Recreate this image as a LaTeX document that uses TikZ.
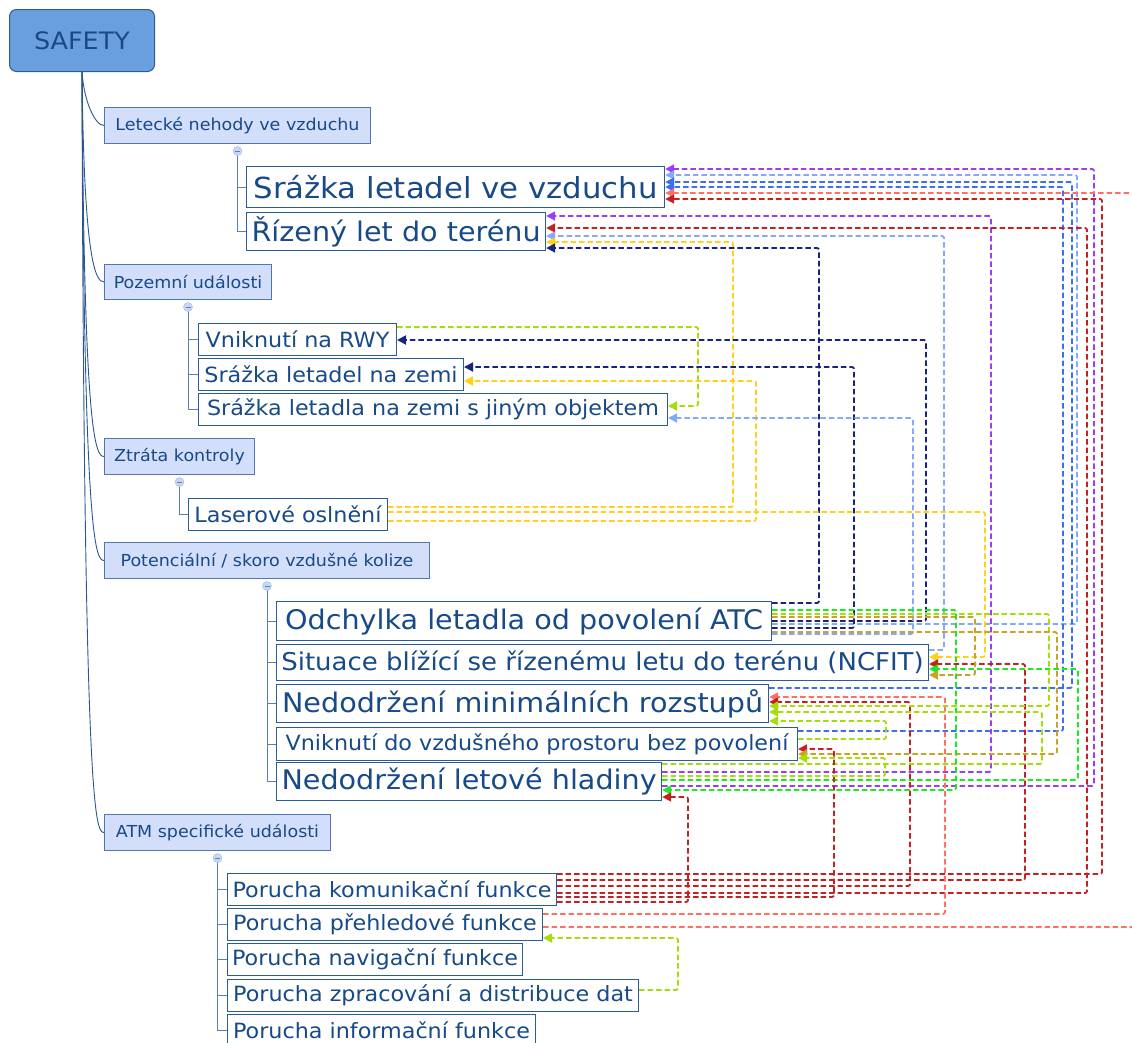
\documentclass[tikz,border=0pt]{standalone}
\usepackage{fontspec}
\setmainfont{DejaVu Sans}[FakeStretch=1.06]
\usetikzlibrary{arrows.meta}

\definecolor{ink}{HTML}{174A87}
\definecolor{rootfill}{HTML}{6A9FDF}
\definecolor{rootedge}{HTML}{2E5C94}
\definecolor{lonefill}{HTML}{D2DEFA}
\definecolor{loneedge}{HTML}{5077B4}
\definecolor{ltwoedge}{HTML}{2B5C9A}
\definecolor{trunkc}{HTML}{2A5791}
\definecolor{branchc}{HTML}{5A7FB5}
\definecolor{knobfill}{HTML}{C8D8F2}
\definecolor{knobedge}{HTML}{9DB6E0}
% connector colours
\definecolor{cpurple}{HTML}{9B3DF5}
\definecolor{clblue}{HTML}{85A8FF}
\definecolor{cblue}{HTML}{3D6EF2}
\definecolor{csalmon}{HTML}{FF6F66}
\definecolor{cdred}{HTML}{C42222}
\definecolor{cnavy}{HTML}{1A237E}
\definecolor{cyellow}{HTML}{FFD21A}
\definecolor{clime}{HTML}{A5DC0A}
\definecolor{cgreen}{HTML}{1EE81E}
\definecolor{colive}{HTML}{C9A22A}

% dashed relation: source node, source y, turning x, target y, target node
\newcommand\wire[6]{\draw[wire,#1] (#2.east |- 0,#3) -| (#4,#5) -- (#6.east |- 0,#5);}

\begin{document}
\begin{tikzpicture}[x=1pt,y=-1pt,
  box/.style={anchor=north west, draw, inner sep=0pt, text=ink, line width=1pt},
  rootbox/.style={box, fill=rootfill, draw=rootedge, rounded corners=7pt,
    font=\fontsize{24}{24}\selectfont},
  lone/.style={box, fill=lonefill, draw=loneedge, font=\fontsize{16.5}{17}\selectfont},
  ltwo/.style={box, fill=white, draw=ltwoedge},
  big/.style={ltwo, line width=1.2pt, font=\fontsize{27}{28}\selectfont},
  bigger/.style={ltwo, line width=1.2pt, font=\fontsize{29}{30}\selectfont},
  ncfit/.style={ltwo, font=\fontsize{24.5}{25}\selectfont},
  mid/.style={ltwo, font=\fontsize{21}{22}\selectfont},
  trunk/.style={draw=trunkc, line width=0.9pt},
  branch/.style={draw=branchc, line width=1pt},
  knob/.style={circle, draw=knobedge, fill=knobfill, minimum size=9pt, inner sep=0pt},
  wire/.style={line width=1.8pt, dash pattern=on 5.5pt off 3pt, rounded corners=2pt,
    -{Triangle[length=9pt,width=9pt]}}
]
\useasboundingbox (0,0) rectangle (1132,1042);
\clip (0,0) rectangle (1132,1042);

% ---------- root and main categories ----------
\node[rootbox, minimum width=145pt, minimum height=62pt] (root) at (9,9) {SAFETY};

\node[lone, minimum width=266pt, minimum height=36pt] (la) at (104,107) {Letecké nehody ve vzduchu};
\node[lone, minimum width=167pt, minimum height=35pt] (lb) at (104,264) {Pozemní události};
\node[lone, minimum width=150pt, minimum height=36pt] (lc) at (104,438) {Ztráta kontroly};
\node[lone, minimum width=325pt, minimum height=36pt] (ld) at (104,542) {Potenciální / skoro vzdušné kolize};
\node[lone, minimum width=226pt, minimum height=36pt] (le) at (104,814) {ATM specifické události};

% ---------- events ----------
\node[bigger, minimum width=418pt, minimum height=41pt] (sv) at (246,166) {Srážka letadel ve vzduchu};
\node[big, minimum width=299pt, minimum height=38pt] (rl) at (246,212) {Řízený let do terénu};

\node[mid, minimum width=198pt, minimum height=32pt] (rwy) at (198,323) {Vniknutí na RWY};
\node[mid, minimum width=265pt, minimum height=32pt] (szz) at (198,358) {Srážka letadel na zemi};
\node[mid, minimum width=469pt, minimum height=32pt] (sjo) at (198,393) {Srážka letadla na zemi s jiným objektem};

\node[mid, minimum width=199pt, minimum height=32pt] (las) at (188,498) {Laserové oslnění};

\node[big, minimum width=495pt, minimum height=39pt] (atc) at (276,601) {Odchylka letadla od povolení ATC};
\node[ncfit, minimum width=652pt, minimum height=36pt] (ncf) at (276,644) {Situace blížící se řízenému letu do terénu (NCFIT)};
\node[big, minimum width=492pt, minimum height=38pt] (nmr) at (276,684) {Nedodržení minimálních rozstupů};
\node[mid, minimum width=521pt, minimum height=33pt] (vvp) at (276,727) {Vniknutí do vzdušného prostoru bez povolení};
\node[big, minimum width=385pt, minimum height=38pt] (nlh) at (276,762) {Nedodržení letové hladiny};

\node[mid, minimum width=329pt, minimum height=32pt] (pk) at (227,873) {Porucha komunikační funkce};
\node[mid, minimum width=315pt, minimum height=32pt] (pp) at (227,908) {Porucha přehledové funkce};
\node[mid, minimum width=295pt, minimum height=32pt] (pn) at (227,943) {Porucha navigační funkce};
\node[mid, minimum width=411pt, minimum height=32pt] (pz) at (227,979) {Porucha zpracování a distribuce dat};
\node[mid, minimum width=308pt, minimum height=32pt] (pi) at (227,1014) {Porucha informační funkce};

% ---------- tree: root to categories ----------
\foreach \c in {la,lb,lc,ld,le}
  \draw[trunk] (root.south) .. controls ([xshift=-20pt,yshift=24pt]\c.west)
    and ([xshift=-9pt]\c.west) .. (\c.west);

% ---------- tree: categories to events ----------
\foreach \p/\k/\kids in {la/ka/{sv,rl}, lb/kb/{rwy,szz,sjo}, lc/kc/{las},
                          ld/kd/{atc,ncf,nmr,vvp,nlh}, le/ke/{pk,pp,pn,pz,pi}}{
  \foreach \q in \kids
    \draw[branch] ([yshift=-7pt]\p.south) |- (\q.west);
  \node[knob] (\k) at ([yshift=-7pt]\p.south) {};
  \draw[draw=branchc, line width=0.8pt] ([xshift=-2.5pt]\k.center) -- ([xshift=2.5pt]\k.center);
}

% ---------- relations ----------
% into Srazka letadel ve vzduchu
\wire{cpurple}{nlh}{786}{1094}{169}{sv}
\wire{clblue}{atc}{624}{1077}{175}{sv}
\wire{cblue}{nmr}{688}{1072}{182}{sv}
\wire{cblue}{vvp}{731}{1063}{187}{sv}
\wire{csalmon}{pp}{927}{1150}{193}{sv}
\wire{cdred}{pk}{874}{1102}{199}{sv}
% into Rizeny let do terenu
\wire{cpurple}{nlh}{772}{991}{216}{rl}
\wire{cdred}{pk}{893}{1087}{228}{rl}
\wire{clblue}{ncf}{650}{944}{236}{rl}
\wire{cyellow}{las}{507}{733}{242}{rl}
\wire{cnavy}{atc}{603}{819}{248}{rl}
% ground events
\wire{clime}{rwy}{327}{698}{406}{sjo}
\wire{cnavy}{atc}{621}{926}{340}{rwy}
\wire{cnavy}{atc}{628}{854}{367}{szz}
\wire{cyellow}{las}{521}{756}{381}{szz}
\wire{clblue}{atc}{634}{913}{418}{sjo}
% into NCFIT
\wire{cyellow}{las}{512}{985}{657}{ncf}
\wire{cdred}{pk}{880}{1025}{664}{ncf}
\wire{cgreen}{nlh}{780}{1078}{669}{ncf}
\wire{colive}{atc}{617}{975}{675}{ncf}
% into minimum separation
\wire{csalmon}{pp}{914}{945}{697}{nmr}
\wire{cdred}{pk}{886}{910}{702}{nmr}
\wire{clime}{atc}{614}{1049}{706}{nmr}
\wire{clime}{nlh}{764}{1042}{712}{nmr}
\wire{clime}{vvp}{739}{886}{721}{nmr}
% into airspace infringement
\wire{cdred}{pk}{897}{834}{749}{vvp}
\wire{colive}{atc}{632}{1057}{754}{vvp}
\wire{clime}{nlh}{776}{885}{758}{vvp}
% into flight level deviation
\wire{cgreen}{atc}{610}{956}{790}{nlh}
\wire{cdred}{pk}{902}{688}{797}{nlh}
% ATM
\wire{clime}{pz}{990}{678}{938}{pp}
\end{tikzpicture}
\end{document}
